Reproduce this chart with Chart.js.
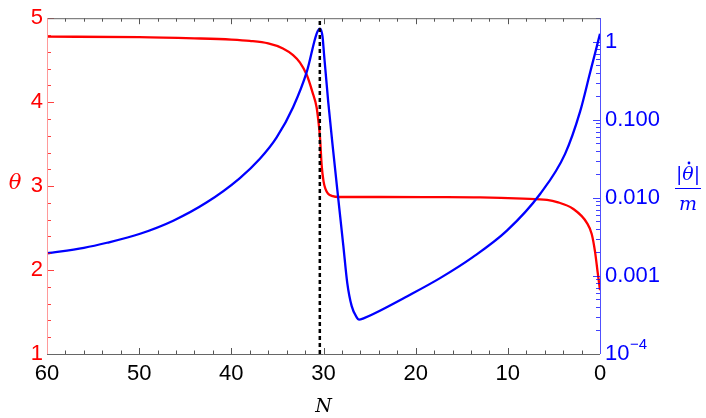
<!DOCTYPE html>
<html>
<head>
<meta charset="utf-8">
<script src="https://cdn.jsdelivr.net/npm/chart.js"></script>
<style>
  html, body { margin: 0; padding: 0; background: #fff; }
</style>
</head>
<body>
<canvas id="plot" width="706" height="418"></canvas>
<script>
// theta(N)
const thetaN   = [60, 50, 44, 40, 38, 36, 34.4, 33.3, 32.55, 31.8, 31.2, 30.75, 30.57, 30.38, 30.2, 30.0, 29.8, 29.5, 29.0, 28.4, 24, 18, 13, 8.35, 5.75, 4.65, 2.93, 1.41, 0.9, 0.54, 0.25, 0];
const thetaVal = [4.78, 4.775, 4.76, 4.745, 4.73, 4.70, 4.64, 4.56, 4.47, 4.32, 4.12, 3.94, 3.79, 3.58, 3.25, 3.06, 2.97, 2.91, 2.88, 2.87, 2.87, 2.868, 2.865, 2.85, 2.835, 2.81, 2.73, 2.56, 2.43, 2.22, 1.97, 1.76];

// |theta dot| / m (log axis)
const rateN   = [60, 56, 53.5, 49.9, 46.3, 42.7, 39.1, 36.9, 35.1, 33.3, 31.8, 30.75, 30.38, 30.1, 29.95, 29.48, 28.94, 28.37, 27.85, 27.42, 26.94, 26.4, 26.15, 25.6, 24.6, 20.9, 17.4, 13.8, 10.1, 6.5, 3.8, 2.17, 1.08, 0.5, 0];
const rateVal = [1.95e-3, 2.29e-3, 2.66e-3, 3.47e-3, 5.1e-3, 8.7e-3, 0.0178, 0.0316, 0.0589, 0.145, 0.417, 1.26, 1.47, 1.15, 0.71, 0.166, 0.039, 0.0091, 2.45e-3, 8.1e-4, 4.1e-4, 2.95e-4, 2.75e-4, 2.88e-4, 3.25e-4, 5.5e-4, 9.3e-4, 1.74e-3, 3.8e-3, 0.0112, 0.0363, 0.126, 0.40, 0.74, 1.26];

const markN = 30.4;
const rateTicks = [1e-4, 1e-3, 1e-2, 1e-1, 1];
const rateTickLabels = ['10', '0.001', '0.010', '0.100', '1'];

const RED = '#ff0000';
const BLUE = '#0000ff';
const tickFont = { family: "'Liberation Sans', Arial, sans-serif", size: 22 };

function pts(xs, ys) {
  return xs.map((v, i) => ({ x: v, y: ys[i] }));
}

function seg(ctx, x1, y1, x2, y2) {
  ctx.beginPath();
  ctx.moveTo(x1, y1);
  ctx.lineTo(x2, y2);
  ctx.stroke();
}

const frame = {
  id: 'frame',
  afterDraw(chart) {
    const { ctx, chartArea: a, scales } = chart;
    const sx = scales.x, sl = scales.y, sr = scales.y1;
    ctx.save();
    ctx.lineWidth = 1;

    // bottom and top ticks (inward)
    ctx.strokeStyle = '#555';
    for (let n = 0; n <= 60; n += 2) {
      const px = Math.round(sx.getPixelForValue(n)) + 0.5;
      const len = n % 10 === 0 ? 6 : 3.5;
      seg(ctx, px, a.bottom, px, a.bottom - len);
      seg(ctx, px, a.top, px, a.top + len);
    }

    // left ticks
    ctx.strokeStyle = 'rgba(255,0,0,0.75)';
    for (let k = 0; k <= 20; k++) {
      const v = 1 + k * 0.2;
      const py = Math.round(sl.getPixelForValue(v)) + 0.5;
      const len = k % 5 === 0 ? 7 : 4;
      seg(ctx, a.left, py, a.left + len, py);
    }

    // right ticks (log)
    ctx.strokeStyle = 'rgba(0,0,255,0.75)';
    for (let e = -4; e <= 0; e++) {
      for (let m = 1; m <= 9; m++) {
        const v = m * Math.pow(10, e);
        if (v > sr.max) break;
        const py = Math.round(sr.getPixelForValue(v)) + 0.5;
        const len = m === 1 ? 7 : 4;
        seg(ctx, a.right, py, a.right - len, py);
      }
    }

    // frame
    ctx.strokeStyle = '#666';
    seg(ctx, a.left, a.top + 0.5, a.right, a.top + 0.5);
    seg(ctx, a.left, a.bottom + 0.5, a.right, a.bottom + 0.5);
    ctx.strokeStyle = '#ff9a9a';
    seg(ctx, a.left + 0.5, a.top, a.left + 0.5, a.bottom);
    ctx.strokeStyle = '#5050ff';
    seg(ctx, a.right + 0.5, a.top, a.right + 0.5, a.bottom);

    // exponent of the 10^-4 label
    const y4 = sr.getPixelForValue(1e-4);
    ctx.fillStyle = BLUE;
    ctx.textAlign = 'left';
    ctx.textBaseline = 'middle';
    ctx.font = "15px 'Liberation Sans', Arial, sans-serif";
    ctx.fillText('−4', a.right + 30, y4 - 9);

    // axis labels
    ctx.textAlign = 'center';
    ctx.fillStyle = RED;
    ctx.font = "italic 21px 'DejaVu Serif', 'Liberation Serif', serif";
    ctx.fillText('θ', 15, 184);

    ctx.fillStyle = BLUE;
    ctx.font = "italic 19px 'DejaVu Serif', 'Liberation Serif', serif";
    ctx.fillText('|θ|', 688, 175);
    ctx.beginPath();
    ctx.arc(689, 163, 1.4, 0, Math.PI * 2);
    ctx.fill();
    ctx.fillText('m', 688, 205);
    ctx.strokeStyle = BLUE;
    seg(ctx, 675, 188.5, 701, 188.5);
    ctx.restore();
  }
};

const ctx = document.getElementById('plot').getContext('2d');
const chart = new Chart(ctx, {
  type: 'line',
  data: {
    datasets: [{
      label: 'mark',
      data: [{ x: markN, y: 1 }, { x: markN, y: 5 }],
      yAxisID: 'y',
      borderColor: '#000',
      borderWidth: 2.5,
      borderDash: [4, 3],
      pointRadius: 0,
      order: 0
    }, {
      label: 'rate',
      data: pts(rateN, rateVal),
      yAxisID: 'y1',
      borderColor: BLUE,
      borderWidth: 2.3,
      pointRadius: 0,
      cubicInterpolationMode: 'monotone',
      order: 1
    }, {
      label: 'theta',
      data: pts(thetaN, thetaVal),
      yAxisID: 'y',
      borderColor: RED,
      borderWidth: 2.3,
      pointRadius: 0,
      cubicInterpolationMode: 'monotone',
      order: 2
    }]
  },
  options: {
    responsive: false,
    animation: false,
    layout: { padding: { top: 14, left: 0, right: 0, bottom: 0 } },
    plugins: { legend: { display: false }, tooltip: { enabled: false } },
    scales: {
      x: {
        type: 'linear',
        reverse: true,
        min: 0,
        max: 60,
        grid: { display: false, drawTicks: false },
        border: { display: false },
        ticks: { stepSize: 10, color: '#000', font: tickFont, padding: 7, maxRotation: 0 },
        title: {
          display: true,
          text: 'N',
          color: '#000',
          font: { family: "'DejaVu Serif', 'Liberation Serif', serif", size: 19, style: 'italic' },
          padding: { top: 0, bottom: 0 }
        },
        afterFit: s => { s.height = 64; }
      },
      y: {
        position: 'left',
        min: 1,
        max: 5,
        grid: { display: false, drawTicks: false },
        border: { display: false },
        ticks: { stepSize: 1, color: RED, font: tickFont, padding: 4 },
        afterFit: s => { s.width = 47; }
      },
      y1: {
        type: 'logarithmic',
        position: 'right',
        min: 1e-4,
        max: 2,
        grid: { display: false, drawTicks: false },
        border: { display: false },
        afterBuildTicks: s => { s.ticks = rateTicks.map(v => ({ value: v })); },
        ticks: {
          color: BLUE,
          font: tickFont,
          padding: 5,
          autoSkip: false,
          callback: v => {
            const i = rateTicks.findIndex(t => Math.abs(t - v) / t < 1e-6);
            return i >= 0 ? rateTickLabels[i] : '';
          }
        },
        afterFit: s => { s.width = 106; }
      }
    }
  },
  plugins: [frame]
});
</script>
</body>
</html>
